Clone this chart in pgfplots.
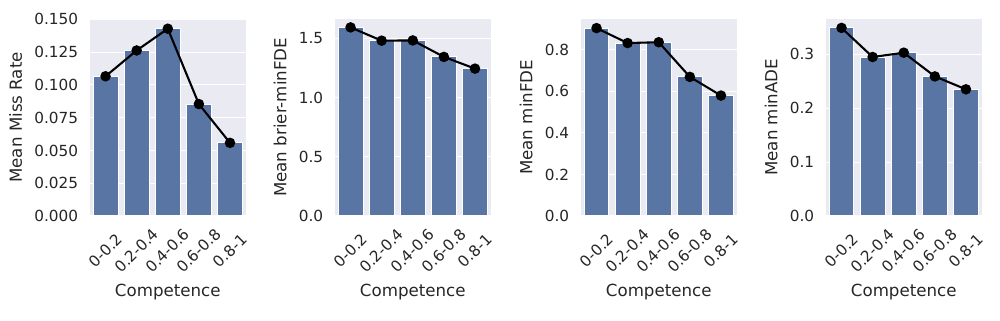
\documentclass[border=0pt]{standalone}
\usepackage{pgfplots}
\usepackage{pgfplotstable}
\usepackage{graphicx}
\usepackage{fontspec}
\setmainfont{DejaVu Sans}
\pgfplotsset{compat=1.18}

\definecolor{snsbg}{HTML}{EAEAF2}
\definecolor{snsbar}{HTML}{5975A4}
\definecolor{snstext}{HTML}{262626}

% bin, mean
\pgfplotstableread{
x y
0 0.1066
1 0.1263
2 0.1429
3 0.0854
4 0.0558
}\missrate
\pgfplotstableread{
x y
0 1.592
1 1.480
2 1.482
3 1.343
4 1.244
}\brier
\pgfplotstableread{
x y
0 0.905
1 0.833
2 0.837
3 0.670
4 0.580
}\minfde
\pgfplotstableread{
x y
0 0.349
1 0.295
2 0.303
3 0.259
4 0.235
}\minade

\pgfplotsset{
  sns/.style={
    scale only axis,
    width=112pt, height=142pt,
    xmin=-0.5, xmax=4.5, ymin=0,
    axis background/.style={fill=snsbg},
    axis line style={draw=none},
    major tick length=0pt,
    ymajorgrids, grid style={white, line width=0.8pt},
    xtick={0,1,2,3,4},
    xticklabels={\rotatebox{45}{0-0.2},\rotatebox{45}{0.2-0.4},\rotatebox{45}{0.4-0.6},\rotatebox{45}{0.6-0.8},\rotatebox{45}{0.8-1}},
    xticklabel style={anchor=center, inner sep=0pt, yshift=-25pt},
    yticklabel style={xshift=-5pt},
    tick label style={font=\fontsize{11}{13}\selectfont, text=snstext},
    label style={font=\fontsize{12}{14}\selectfont, text=snstext},
    /pgf/number format/assume math mode=true,
    xlabel={Competence},
    xlabel style={at={(axis description cs:0.5,0)}, anchor=center, yshift=-54.5pt},
    ylabel shift=2pt,
    anchor=south west,
  },
  bars/.style={ybar, bar width=0.8, bar shift=0pt, fill=snsbar, draw=white, line width=0.7pt},
  meanline/.style={black, line width=1.5pt, mark=*, mark size=3pt, mark options={fill=black, draw=black}},
}

\begin{document}
\begin{tikzpicture}
\useasboundingbox (0,0) rectangle (720pt,230.4pt);

\begin{axis}[sns, at={(64.8pt,74.9pt)}, ymax=0.1505,
  ytick={0,0.025,0.05,0.075,0.1,0.125,0.15},
  yticklabel style={/pgf/number format/.cd, fixed, fixed zerofill, precision=3},
  ylabel={Mean Miss Rate}]
\addplot[bars] table[x=x,y=y] {\missrate};
\addplot[meanline] table[x=x,y=y] {\missrate};
\end{axis}

\begin{axis}[sns, at={(241.2pt,74.9pt)}, ymax=1.665,
  ytick={0,0.5,1,1.5},
  yticklabel style={/pgf/number format/.cd, fixed, fixed zerofill, precision=1},
  ylabel={Mean brier-minFDE}]
\addplot[bars] table[x=x,y=y] {\brier};
\addplot[meanline] table[x=x,y=y] {\brier};
\end{axis}

\begin{axis}[sns, at={(418.3pt,74.9pt)}, ymax=0.95,
  ytick={0,0.2,0.4,0.6,0.8},
  yticklabel style={/pgf/number format/.cd, fixed, fixed zerofill, precision=1},
  ylabel={Mean minFDE}]
\addplot[bars] table[x=x,y=y] {\minfde};
\addplot[meanline] table[x=x,y=y] {\minfde};
\end{axis}

\begin{axis}[sns, at={(594.7pt,74.9pt)}, ymax=0.366,
  ytick={0,0.1,0.2,0.3},
  yticklabel style={/pgf/number format/.cd, fixed, fixed zerofill, precision=1},
  ylabel={Mean minADE}]
\addplot[bars] table[x=x,y=y] {\minade};
\addplot[meanline] table[x=x,y=y] {\minade};
\end{axis}
\end{tikzpicture}
\end{document}
